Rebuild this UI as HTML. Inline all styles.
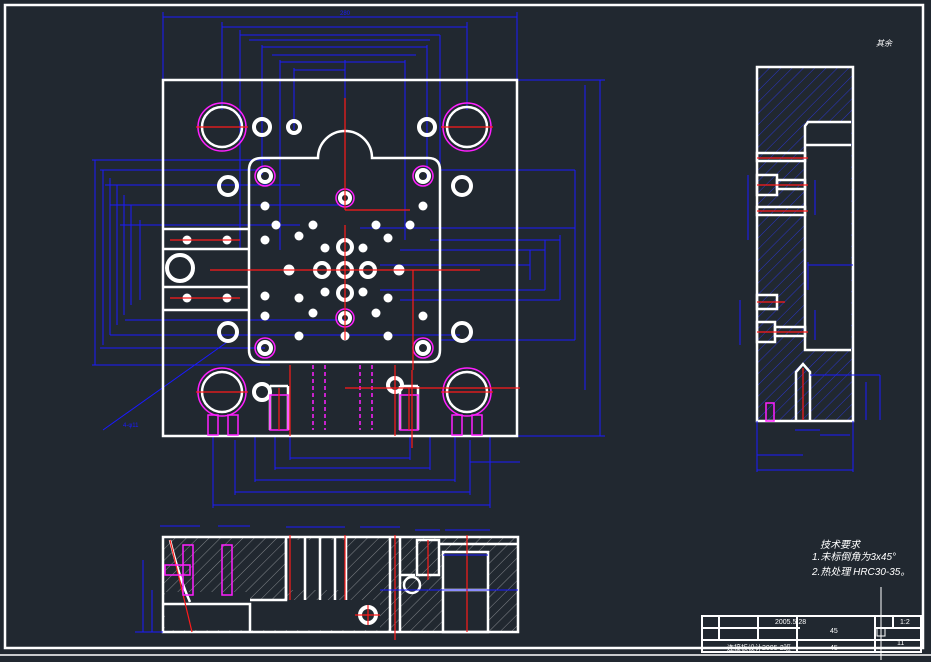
<!DOCTYPE html>
<html><head><meta charset="utf-8"><style>
html,body{margin:0;padding:0;background:#212830;}
svg{display:block}
text{font-family:"Liberation Sans","Noto Sans CJK SC",sans-serif;}
</style></head><body>
<svg width="931" height="662" viewBox="0 0 931 662" xmlns="http://www.w3.org/2000/svg">
<defs>
<pattern id="h" width="8" height="8" patternUnits="userSpaceOnUse" patternTransform="rotate(45)">
<line x1="0" y1="0" x2="0" y2="8" stroke="#2a35c8" stroke-width="1"/></pattern>
<pattern id="hw" width="8" height="8" patternUnits="userSpaceOnUse" patternTransform="rotate(45)">
<line x1="0" y1="0" x2="0" y2="8" stroke="#ffffff" stroke-width="0.8"/></pattern>
</defs>
<rect width="931" height="662" fill="#212830"/>
<rect x="5" y="5" width="918" height="643" fill="none" stroke="#fff" stroke-width="2.5"/>
<line x1="0" y1="655" x2="931" y2="655" stroke="#fff" stroke-width="1.5"/>

<g stroke="#1a1aff" stroke-width="1" fill="none">
<line x1="163" y1="17" x2="517" y2="17"/><line x1="163" y1="12" x2="163" y2="80"/><line x1="517" y1="12" x2="517" y2="80"/>
<line x1="222" y1="27" x2="467" y2="27"/><line x1="222" y1="22" x2="222" y2="110"/><line x1="467" y1="22" x2="467" y2="110"/>
<line x1="240" y1="35" x2="440" y2="35"/><line x1="249" y1="40" x2="430" y2="40"/>
<line x1="262" y1="47" x2="427" y2="47"/><line x1="262" y1="45" x2="262" y2="175"/><line x1="427" y1="45" x2="427" y2="180"/>
<line x1="272" y1="55" x2="416" y2="55"/><line x1="280" y1="62" x2="405" y2="62"/>
<line x1="294" y1="70" x2="345" y2="70"/><line x1="294" y1="68" x2="294" y2="130"/><line x1="345" y1="60" x2="345" y2="200"/>
<line x1="240" y1="30" x2="240" y2="250"/><line x1="280" y1="60" x2="280" y2="250"/><line x1="405" y1="60" x2="405" y2="240"/><line x1="440" y1="35" x2="440" y2="240"/>
<line x1="95" y1="160" x2="95" y2="365"/><line x1="92" y1="160" x2="270" y2="160"/><line x1="92" y1="365" x2="270" y2="365"/>
<line x1="103" y1="170" x2="103" y2="345"/><line x1="110" y1="178" x2="110" y2="335"/><line x1="117" y1="185" x2="117" y2="325"/>
<line x1="124" y1="195" x2="124" y2="315"/><line x1="131" y1="205" x2="131" y2="305"/><line x1="140" y1="220" x2="140" y2="300"/>
<line x1="100" y1="170" x2="265" y2="170"/><line x1="105" y1="185" x2="300" y2="185"/><line x1="110" y1="205" x2="345" y2="205"/>
<line x1="120" y1="225" x2="300" y2="225"/><line x1="125" y1="320" x2="345" y2="320"/><line x1="110" y1="335" x2="460" y2="335"/>
<line x1="100" y1="348" x2="265" y2="348"/><line x1="103" y1="430" x2="230" y2="340"/>
<line x1="600" y1="80" x2="600" y2="436"/><line x1="517" y1="80" x2="605" y2="80"/><line x1="517" y1="436" x2="605" y2="436"/>
<line x1="585" y1="85" x2="585" y2="390"/><line x1="575" y1="170" x2="575" y2="340"/><line x1="560" y1="235" x2="560" y2="300"/>
<line x1="545" y1="240" x2="545" y2="290"/><line x1="530" y1="250" x2="530" y2="280"/>
<line x1="430" y1="240" x2="560" y2="240"/><line x1="400" y1="250" x2="545" y2="250"/><line x1="380" y1="265" x2="530" y2="265"/>
<line x1="380" y1="290" x2="545" y2="290"/><line x1="400" y1="300" x2="560" y2="300"/><line x1="440" y1="170" x2="575" y2="170"/>
<line x1="440" y1="340" x2="575" y2="340"/><line x1="360" y1="228" x2="575" y2="228"/>
<line x1="213" y1="436" x2="213" y2="508"/><line x1="490" y1="436" x2="490" y2="508"/><line x1="213" y1="505" x2="490" y2="505"/>
<line x1="235" y1="440" x2="235" y2="495"/><line x1="470" y1="440" x2="470" y2="495"/><line x1="235" y1="492" x2="470" y2="492"/>
<line x1="255" y1="436" x2="255" y2="482"/><line x1="455" y1="436" x2="455" y2="482"/><line x1="255" y1="480" x2="455" y2="480"/>
<line x1="275" y1="436" x2="275" y2="470"/><line x1="430" y1="436" x2="430" y2="470"/><line x1="275" y1="468" x2="430" y2="468"/>
<line x1="290" y1="436" x2="290" y2="460"/><line x1="410" y1="436" x2="410" y2="460"/><line x1="290" y1="458" x2="410" y2="458"/>
<line x1="470" y1="462" x2="520" y2="462"/>
</g>

<g fill="none" stroke="#fff" stroke-width="2.5">
<rect x="163" y="80" width="354" height="356"/>
<path d="M262 158 H318 A27 27 0 0 1 372 158 H428 Q440 158 440 170 V350 Q440 362 428 362 H262 Q249 362 249 350 V170 Q249 158 262 158 Z"/>
<line x1="163" y1="229" x2="249" y2="229"/><line x1="163" y1="249" x2="249" y2="249"/>
<line x1="163" y1="287" x2="249" y2="287"/><line x1="163" y1="310" x2="249" y2="310"/>
<circle cx="180" cy="268" r="13" stroke-width="4"/>
<circle cx="222" cy="127" r="20"/><circle cx="467" cy="127" r="20"/>
<circle cx="222" cy="392" r="20"/><circle cx="467" cy="392" r="20"/>
<g stroke-width="4">
<circle cx="262" cy="127" r="8"/><circle cx="427" cy="127" r="8"/>
<circle cx="294" cy="127" r="6"/>
<circle cx="228" cy="186" r="9"/><circle cx="462" cy="186" r="9"/>
<circle cx="228" cy="332" r="9"/><circle cx="462" cy="332" r="9"/>
<circle cx="262" cy="392" r="8"/><circle cx="395" cy="385" r="7"/>
<circle cx="265" cy="176" r="6"/><circle cx="423" cy="176" r="6"/>
<circle cx="265" cy="348" r="6"/><circle cx="423" cy="348" r="6"/>
<circle cx="345" cy="198" r="5"/><circle cx="345" cy="318" r="5"/>
<circle cx="345" cy="247" r="7"/><circle cx="345" cy="270" r="7"/><circle cx="345" cy="293" r="7"/>
<circle cx="322" cy="270" r="7"/><circle cx="368" cy="270" r="7"/>
</g>
<line x1="270" y1="386" x2="270" y2="430"/><line x1="288" y1="386" x2="288" y2="430"/><line x1="270" y1="386" x2="288" y2="386"/>
<line x1="400" y1="386" x2="400" y2="430"/><line x1="418" y1="386" x2="418" y2="430"/><line x1="400" y1="386" x2="418" y2="386"/>
</g>
<g fill="#fff">
<circle cx="265" cy="206" r="4.5"/><circle cx="423" cy="206" r="4.5"/><circle cx="265" cy="316" r="4.5"/><circle cx="423" cy="316" r="4.5"/>
<circle cx="276" cy="225" r="4.5"/><circle cx="313" cy="225" r="4.5"/><circle cx="376" cy="225" r="4.5"/><circle cx="410" cy="225" r="4.5"/>
<circle cx="299" cy="236" r="4.5"/><circle cx="388" cy="238" r="4.5"/>
<circle cx="325" cy="248" r="4.5"/><circle cx="363" cy="248" r="4.5"/><circle cx="325" cy="292" r="4.5"/><circle cx="363" cy="292" r="4.5"/>
<circle cx="289" cy="270" r="5.5"/><circle cx="399" cy="270" r="5.5"/>
<circle cx="299" cy="298" r="4.5"/><circle cx="388" cy="298" r="4.5"/><circle cx="313" cy="313" r="4.5"/><circle cx="376" cy="313" r="4.5"/>
<circle cx="299" cy="336" r="4.5"/><circle cx="388" cy="336" r="4.5"/><circle cx="345" cy="336" r="4.5"/><circle cx="265" cy="296" r="4.5"/><circle cx="265" cy="240" r="4.5"/>
<circle cx="187" cy="240" r="4.5"/><circle cx="227" cy="240" r="4.5"/><circle cx="187" cy="298" r="4.5"/><circle cx="227" cy="298" r="4.5"/>
</g>
<g fill="none" stroke="#ff20ff" stroke-width="1.5">
<circle cx="222" cy="127" r="24"/><circle cx="467" cy="127" r="24"/><circle cx="222" cy="392" r="24"/><circle cx="467" cy="392" r="24"/>
<circle cx="265" cy="176" r="10"/><circle cx="423" cy="176" r="10"/><circle cx="265" cy="348" r="10"/><circle cx="423" cy="348" r="10"/>
<circle cx="345" cy="198" r="9"/><circle cx="345" cy="318" r="9"/>
<rect x="208" y="415" width="10" height="20"/><rect x="228" y="415" width="10" height="20"/>
<rect x="452" y="415" width="10" height="20"/><rect x="472" y="415" width="10" height="20"/>
<rect x="270" y="395" width="18" height="35"/><rect x="400" y="395" width="18" height="35"/>
<line x1="313" y1="365" x2="313" y2="430" stroke-dasharray="4 3"/><line x1="325" y1="365" x2="325" y2="430" stroke-dasharray="4 3"/>
<line x1="360" y1="365" x2="360" y2="430" stroke-dasharray="4 3"/><line x1="372" y1="365" x2="372" y2="430" stroke-dasharray="4 3"/>
</g>
<g stroke="#ff1a1a" stroke-width="1.2">
<line x1="196" y1="127" x2="248" y2="127"/><line x1="441" y1="127" x2="493" y2="127"/>
<line x1="196" y1="392" x2="248" y2="392"/><line x1="441" y1="392" x2="493" y2="392"/>
<line x1="345" y1="98" x2="345" y2="210"/><line x1="345" y1="210" x2="410" y2="210"/>
<line x1="210" y1="270" x2="480" y2="270"/><line x1="345" y1="225" x2="345" y2="340"/>
<line x1="413" y1="270" x2="413" y2="370"/><line x1="412" y1="370" x2="412" y2="448"/>
<line x1="345" y1="388" x2="520" y2="388"/><line x1="170" y1="240" x2="240" y2="240"/><line x1="170" y1="298" x2="240" y2="298"/>
<line x1="279" y1="388" x2="279" y2="430"/><line x1="409" y1="388" x2="409" y2="430"/>
<line x1="290" y1="365" x2="290" y2="436"/><line x1="395" y1="365" x2="395" y2="436"/>
</g>

<rect x="757" y="67" width="96" height="354" fill="url(#h)"/>
<rect x="805" y="122" width="46" height="228" fill="#212830"/>
<g fill="none" stroke="#fff" stroke-width="2.5">
<path d="M757 67 H853 V421 H757 Z"/>
<path d="M851 122 H808 L805 126 V350 H851"/>
<line x1="805" y1="145" x2="851" y2="145"/>
<rect x="757" y="153" width="48" height="8"/><rect x="757" y="175" width="20" height="20"/><rect x="777" y="180" width="28" height="9"/>
<rect x="757" y="207" width="48" height="8"/>
<rect x="757" y="295" width="20" height="14"/><rect x="757" y="322" width="18" height="20"/><rect x="775" y="327" width="30" height="9"/>
<path d="M796 421 V372 L803 364 L810 372 V421"/>
</g>
<g stroke="#ff1a1a" stroke-width="1.2">
<line x1="757" y1="158" x2="808" y2="158"/><line x1="757" y1="185" x2="808" y2="185"/><line x1="757" y1="211" x2="808" y2="211"/>
<line x1="757" y1="302" x2="785" y2="302"/><line x1="757" y1="332" x2="808" y2="332"/><line x1="803" y1="368" x2="803" y2="420"/>
</g>
<rect x="766" y="403" width="8" height="18" fill="none" stroke="#ff20ff" stroke-width="1.5"/>
<g stroke="#1a1aff" stroke-width="1" fill="none">
<line x1="757" y1="470" x2="853" y2="470"/><line x1="757" y1="421" x2="757" y2="472"/><line x1="853" y1="421" x2="853" y2="472"/>
<line x1="757" y1="455" x2="803" y2="455"/><line x1="795" y1="430" x2="820" y2="430"/><line x1="820" y1="435" x2="850" y2="435"/>
<line x1="880" y1="375" x2="880" y2="420"/><line x1="866" y1="382" x2="866" y2="420"/><line x1="810" y1="375" x2="880" y2="375"/>
<line x1="808" y1="265" x2="853" y2="265"/><line x1="808" y1="262" x2="808" y2="290"/>
<line x1="748" y1="175" x2="748" y2="240"/><line x1="740" y1="300" x2="740" y2="345"/><line x1="815" y1="180" x2="815" y2="215"/>
<line x1="815" y1="310" x2="815" y2="340"/>
</g>

<rect x="163" y="537" width="355" height="95" fill="url(#hw)" opacity="0.55"/>
<rect x="165" y="592" width="85" height="38" fill="#212830"/>
<rect x="250" y="600" width="130" height="30" fill="#212830"/>
<rect x="286" y="540" width="60" height="50" fill="#212830"/>
<rect x="443" y="552" width="45" height="80" fill="#212830"/>
<g fill="none" stroke="#fff" stroke-width="2.5">
<rect x="163" y="537" width="355" height="95"/>
<path d="M163 604 H250 V632"/><path d="M250 600 H286 V540"/>
<line x1="286" y1="537" x2="286" y2="600"/><line x1="305" y1="537" x2="305" y2="600"/><line x1="320" y1="537" x2="320" y2="600"/><line x1="335" y1="537" x2="335" y2="600"/><line x1="346" y1="537" x2="346" y2="600"/>
<line x1="390" y1="537" x2="390" y2="632"/><line x1="400" y1="537" x2="400" y2="632"/>
<line x1="400" y1="575" x2="415" y2="575"/>
<rect x="417" y="540" width="22" height="35"/>
<rect x="443" y="552" width="45" height="80"/><line x1="443" y1="590" x2="488" y2="590"/>
<line x1="440" y1="544" x2="518" y2="544"/>
<circle cx="368" cy="615" r="8" stroke-width="4"/><circle cx="412" cy="585" r="8"/>
<path d="M170 540 Q180 580 190 602"/>
</g>
<g stroke="#ff1a1a" stroke-width="1.2">
<line x1="170" y1="540" x2="192" y2="632"/><line x1="290" y1="535" x2="290" y2="600"/><line x1="345" y1="535" x2="345" y2="600"/>
<line x1="395" y1="535" x2="395" y2="640"/><line x1="467" y1="535" x2="467" y2="632"/><line x1="428" y1="540" x2="428" y2="580"/>
<line x1="355" y1="615" x2="380" y2="615"/><line x1="368" y1="605" x2="368" y2="625"/>
</g>
<g fill="none" stroke="#ff20ff" stroke-width="1.5">
<rect x="183" y="545" width="10" height="50"/><rect x="165" y="565" width="25" height="10"/><rect x="222" y="545" width="10" height="50"/>
</g>
<g stroke="#1a1aff" stroke-width="1" fill="none">
<line x1="160" y1="526" x2="200" y2="526"/><line x1="218" y1="526" x2="250" y2="526"/><line x1="286" y1="527" x2="345" y2="527"/>
<line x1="360" y1="527" x2="400" y2="527"/><line x1="415" y1="530" x2="440" y2="530"/><line x1="445" y1="530" x2="490" y2="530"/>
<line x1="143" y1="560" x2="143" y2="632"/><line x1="152" y1="590" x2="152" y2="632"/><line x1="135" y1="632" x2="163" y2="632"/>
<line x1="443" y1="555" x2="488" y2="555"/><line x1="380" y1="590" x2="518" y2="590"/>
</g>

<g fill="none" stroke="#fff" stroke-width="2">
<rect x="702" y="616" width="219" height="36"/>
<line x1="702" y1="628" x2="800" y2="628"/><line x1="702" y1="640" x2="921" y2="640"/>
<line x1="719" y1="616" x2="719" y2="640"/><line x1="758" y1="616" x2="758" y2="640"/><line x1="797" y1="616" x2="797" y2="652"/>
<line x1="875" y1="616" x2="875" y2="652"/><line x1="893" y1="616" x2="893" y2="628"/><line x1="875" y1="628" x2="921" y2="628"/>
<line x1="881" y1="587" x2="881" y2="660" stroke-width="1"/><rect x="877" y="628" width="8" height="8" stroke-width="1"/>
</g>
<g fill="#fff" font-size="7">
<text x="775" y="624">2005.5.28</text><text x="830" y="633">45</text><text x="830" y="650">45</text><text x="900" y="624">1:2</text><text x="897" y="645">11</text>
<text x="727" y="650">连接板设计2005-2班</text>
</g>
<g fill="#fff" font-size="10" font-style="italic">
<text x="820" y="548">技术要求</text>
<text x="812" y="560">1.未标倒角为3x45°</text>
<text x="812" y="575">2.热处理 HRC30-35。</text>
<text x="876" y="46" font-size="8">其余</text>
</g>
<g fill="#1a1aff" font-size="6"><text x="123" y="427">4-φ11</text><text x="340" y="15">280</text></g>
</svg>
</body></html>
